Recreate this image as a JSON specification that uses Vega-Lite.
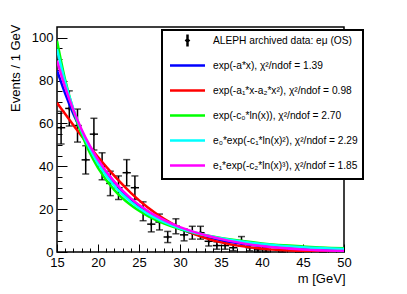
{
  "$schema": "https://vega.github.io/schema/vega-lite/v6.json",
  "width": 287,
  "height": 225,
  "autosize": {"type": "none"},
  "padding": {"left": 57, "top": 27, "right": 63, "bottom": 42},
  "background": "white",
  "datasets": {
    "pts": [
      {"s": "ALEPH archived data: eμ (OS)", "m": 15.5, "n": 58, "lo": 50.4, "hi": 65.6, "ml": 15, "mh": 16},
      {"s": "ALEPH archived data: eμ (OS)", "m": 16.5, "n": 67, "lo": 58.8, "hi": 75.2, "ml": 16, "mh": 17},
      {"s": "ALEPH archived data: eμ (OS)", "m": 17.5, "n": 59, "lo": 51.3, "hi": 66.7, "ml": 17, "mh": 18},
      {"s": "ALEPH archived data: eμ (OS)", "m": 18.5, "n": 43, "lo": 36.4, "hi": 49.6, "ml": 18, "mh": 19},
      {"s": "ALEPH archived data: eμ (OS)", "m": 19.5, "n": 55, "lo": 47.6, "hi": 62.4, "ml": 19, "mh": 20},
      {"s": "ALEPH archived data: eμ (OS)", "m": 20.5, "n": 40, "lo": 33.7, "hi": 46.3, "ml": 20, "mh": 21},
      {"s": "ALEPH archived data: eμ (OS)", "m": 21.5, "n": 32, "lo": 26.3, "hi": 37.7, "ml": 21, "mh": 22},
      {"s": "ALEPH archived data: eμ (OS)", "m": 22.5, "n": 30, "lo": 24.5, "hi": 35.5, "ml": 22, "mh": 23},
      {"s": "ALEPH archived data: eμ (OS)", "m": 23.5, "n": 37, "lo": 30.9, "hi": 43.1, "ml": 23, "mh": 24},
      {"s": "ALEPH archived data: eμ (OS)", "m": 24.5, "n": 30, "lo": 24.5, "hi": 35.5, "ml": 24, "mh": 25},
      {"s": "ALEPH archived data: eμ (OS)", "m": 25.5, "n": 19, "lo": 14.6, "hi": 23.4, "ml": 25, "mh": 26},
      {"s": "ALEPH archived data: eμ (OS)", "m": 26.5, "n": 13, "lo": 9.4, "hi": 16.6, "ml": 26, "mh": 27},
      {"s": "ALEPH archived data: eμ (OS)", "m": 27.5, "n": 14, "lo": 10.3, "hi": 17.7, "ml": 27, "mh": 28},
      {"s": "ALEPH archived data: eμ (OS)", "m": 28.5, "n": 7, "lo": 4.4, "hi": 9.6, "ml": 28, "mh": 29},
      {"s": "ALEPH archived data: eμ (OS)", "m": 29.5, "n": 12, "lo": 8.5, "hi": 15.5, "ml": 29, "mh": 30},
      {"s": "ALEPH archived data: eμ (OS)", "m": 30.5, "n": 8, "lo": 5.2, "hi": 10.8, "ml": 30, "mh": 31},
      {"s": "ALEPH archived data: eμ (OS)", "m": 31.5, "n": 9, "lo": 6, "hi": 12, "ml": 31, "mh": 32},
      {"s": "ALEPH archived data: eμ (OS)", "m": 32.5, "n": 9, "lo": 6, "hi": 12, "ml": 32, "mh": 33},
      {"s": "ALEPH archived data: eμ (OS)", "m": 33.5, "n": 5, "lo": 2.8, "hi": 7.2, "ml": 33, "mh": 34},
      {"s": "ALEPH archived data: eμ (OS)", "m": 34.5, "n": 3, "lo": 1.3, "hi": 4.7, "ml": 34, "mh": 35},
      {"s": "ALEPH archived data: eμ (OS)", "m": 35.5, "n": 3, "lo": 1.3, "hi": 4.7, "ml": 35, "mh": 36},
      {"s": "ALEPH archived data: eμ (OS)", "m": 36.5, "n": 2, "lo": 0.6, "hi": 3.4, "ml": 36, "mh": 37},
      {"s": "ALEPH archived data: eμ (OS)", "m": 37.5, "n": 5, "lo": 2.8, "hi": 7.2, "ml": 37, "mh": 38},
      {"s": "ALEPH archived data: eμ (OS)", "m": 38.5, "n": 2, "lo": 0.6, "hi": 3.4, "ml": 38, "mh": 39},
      {"s": "ALEPH archived data: eμ (OS)", "m": 39.5, "n": 1, "lo": 0, "hi": 2, "ml": 39, "mh": 40},
      {"s": "ALEPH archived data: eμ (OS)", "m": 40.5, "n": 1, "lo": 0, "hi": 2, "ml": 40, "mh": 41},
      {"s": "ALEPH archived data: eμ (OS)", "m": 42.5, "n": 1, "lo": 0, "hi": 2, "ml": 42, "mh": 43},
      {"s": "ALEPH archived data: eμ (OS)", "m": 44.5, "n": 1, "lo": 0, "hi": 2, "ml": 44, "mh": 45},
      {"s": "ALEPH archived data: eμ (OS)", "m": 47.5, "n": 1, "lo": 0, "hi": 2, "ml": 47, "mh": 48}
    ],
    "fits": [
      {"s": "exp(-a*x), χ²/ndof =  1.39", "m": 15, "v": 84.7},
      {"s": "exp(-a*x), χ²/ndof =  1.39", "m": 16, "v": 73.9},
      {"s": "exp(-a*x), χ²/ndof =  1.39", "m": 17, "v": 64.4},
      {"s": "exp(-a*x), χ²/ndof =  1.39", "m": 18, "v": 56.2},
      {"s": "exp(-a*x), χ²/ndof =  1.39", "m": 19, "v": 49.0},
      {"s": "exp(-a*x), χ²/ndof =  1.39", "m": 20, "v": 42.7},
      {"s": "exp(-a*x), χ²/ndof =  1.39", "m": 22, "v": 32.5},
      {"s": "exp(-a*x), χ²/ndof =  1.39", "m": 24, "v": 24.7},
      {"s": "exp(-a*x), χ²/ndof =  1.39", "m": 26, "v": 18.8},
      {"s": "exp(-a*x), χ²/ndof =  1.39", "m": 28, "v": 14.3},
      {"s": "exp(-a*x), χ²/ndof =  1.39", "m": 30, "v": 10.85},
      {"s": "exp(-a*x), χ²/ndof =  1.39", "m": 33, "v": 7.2},
      {"s": "exp(-a*x), χ²/ndof =  1.39", "m": 36, "v": 4.77},
      {"s": "exp(-a*x), χ²/ndof =  1.39", "m": 40, "v": 2.76},
      {"s": "exp(-a*x), χ²/ndof =  1.39", "m": 45, "v": 1.39},
      {"s": "exp(-a*x), χ²/ndof =  1.39", "m": 50, "v": 0.7},
      {"s": "exp(-a₁*x-a₂*x²), χ²/ndof =  0.98", "m": 15, "v": 69.6},
      {"s": "exp(-a₁*x-a₂*x²), χ²/ndof =  0.98", "m": 16, "v": 64.4},
      {"s": "exp(-a₁*x-a₂*x²), χ²/ndof =  0.98", "m": 17, "v": 59.2},
      {"s": "exp(-a₁*x-a₂*x²), χ²/ndof =  0.98", "m": 18, "v": 54.1},
      {"s": "exp(-a₁*x-a₂*x²), χ²/ndof =  0.98", "m": 19, "v": 49.1},
      {"s": "exp(-a₁*x-a₂*x²), χ²/ndof =  0.98", "m": 20, "v": 44.3},
      {"s": "exp(-a₁*x-a₂*x²), χ²/ndof =  0.98", "m": 22, "v": 35.5},
      {"s": "exp(-a₁*x-a₂*x²), χ²/ndof =  0.98", "m": 24, "v": 27.6},
      {"s": "exp(-a₁*x-a₂*x²), χ²/ndof =  0.98", "m": 26, "v": 21.0},
      {"s": "exp(-a₁*x-a₂*x²), χ²/ndof =  0.98", "m": 28, "v": 15.6},
      {"s": "exp(-a₁*x-a₂*x²), χ²/ndof =  0.98", "m": 30, "v": 11.3},
      {"s": "exp(-a₁*x-a₂*x²), χ²/ndof =  0.98", "m": 33, "v": 6.6},
      {"s": "exp(-a₁*x-a₂*x²), χ²/ndof =  0.98", "m": 36, "v": 3.67},
      {"s": "exp(-a₁*x-a₂*x²), χ²/ndof =  0.98", "m": 40, "v": 1.53},
      {"s": "exp(-a₁*x-a₂*x²), χ²/ndof =  0.98", "m": 45, "v": 0.45},
      {"s": "exp(-a₁*x-a₂*x²), χ²/ndof =  0.98", "m": 50, "v": 0.11},
      {"s": "exp(-c₀*ln(x)), χ²/ndof =  2.70", "m": 15, "v": 98.6},
      {"s": "exp(-c₀*ln(x)), χ²/ndof =  2.70", "m": 16, "v": 80.2},
      {"s": "exp(-c₀*ln(x)), χ²/ndof =  2.70", "m": 17, "v": 66.1},
      {"s": "exp(-c₀*ln(x)), χ²/ndof =  2.70", "m": 18, "v": 55.0},
      {"s": "exp(-c₀*ln(x)), χ²/ndof =  2.70", "m": 19, "v": 46.3},
      {"s": "exp(-c₀*ln(x)), χ²/ndof =  2.70", "m": 20, "v": 39.3},
      {"s": "exp(-c₀*ln(x)), χ²/ndof =  2.70", "m": 22, "v": 28.9},
      {"s": "exp(-c₀*ln(x)), χ²/ndof =  2.70", "m": 24, "v": 21.9},
      {"s": "exp(-c₀*ln(x)), χ²/ndof =  2.70", "m": 26, "v": 17.0},
      {"s": "exp(-c₀*ln(x)), χ²/ndof =  2.70", "m": 28, "v": 13.4},
      {"s": "exp(-c₀*ln(x)), χ²/ndof =  2.70", "m": 30, "v": 10.7},
      {"s": "exp(-c₀*ln(x)), χ²/ndof =  2.70", "m": 33, "v": 7.9},
      {"s": "exp(-c₀*ln(x)), χ²/ndof =  2.70", "m": 36, "v": 5.9},
      {"s": "exp(-c₀*ln(x)), χ²/ndof =  2.70", "m": 40, "v": 4.0},
      {"s": "exp(-c₀*ln(x)), χ²/ndof =  2.70", "m": 45, "v": 2.6},
      {"s": "exp(-c₀*ln(x)), χ²/ndof =  2.70", "m": 50, "v": 1.7},
      {"s": "e₀*exp(-c₁*ln(x)²), χ²/ndof =  2.29", "m": 15, "v": 94.7},
      {"s": "e₀*exp(-c₁*ln(x)²), χ²/ndof =  2.29", "m": 16, "v": 79.2},
      {"s": "e₀*exp(-c₁*ln(x)²), χ²/ndof =  2.29", "m": 17, "v": 66.7},
      {"s": "e₀*exp(-c₁*ln(x)²), χ²/ndof =  2.29", "m": 18, "v": 56.5},
      {"s": "e₀*exp(-c₁*ln(x)²), χ²/ndof =  2.29", "m": 19, "v": 48.2},
      {"s": "e₀*exp(-c₁*ln(x)²), χ²/ndof =  2.29", "m": 20, "v": 41.3},
      {"s": "e₀*exp(-c₁*ln(x)²), χ²/ndof =  2.29", "m": 22, "v": 30.8},
      {"s": "e₀*exp(-c₁*ln(x)²), χ²/ndof =  2.29", "m": 24, "v": 23.4},
      {"s": "e₀*exp(-c₁*ln(x)²), χ²/ndof =  2.29", "m": 26, "v": 18.0},
      {"s": "e₀*exp(-c₁*ln(x)²), χ²/ndof =  2.29", "m": 28, "v": 14.1},
      {"s": "e₀*exp(-c₁*ln(x)²), χ²/ndof =  2.29", "m": 30, "v": 11.1},
      {"s": "e₀*exp(-c₁*ln(x)²), χ²/ndof =  2.29", "m": 33, "v": 7.97},
      {"s": "e₀*exp(-c₁*ln(x)²), χ²/ndof =  2.29", "m": 36, "v": 5.7},
      {"s": "e₀*exp(-c₁*ln(x)²), χ²/ndof =  2.29", "m": 40, "v": 3.7},
      {"s": "e₀*exp(-c₁*ln(x)²), χ²/ndof =  2.29", "m": 45, "v": 2.2},
      {"s": "e₀*exp(-c₁*ln(x)²), χ²/ndof =  2.29", "m": 50, "v": 1.4},
      {"s": "e₁*exp(-c₂*ln(x)³), χ²/ndof =  1.85", "m": 15, "v": 89.3},
      {"s": "e₁*exp(-c₂*ln(x)³), χ²/ndof =  1.85", "m": 16, "v": 76.8},
      {"s": "e₁*exp(-c₂*ln(x)³), χ²/ndof =  1.85", "m": 17, "v": 66.2},
      {"s": "e₁*exp(-c₂*ln(x)³), χ²/ndof =  1.85", "m": 18, "v": 57.2},
      {"s": "e₁*exp(-c₂*ln(x)³), χ²/ndof =  1.85", "m": 19, "v": 49.6},
      {"s": "e₁*exp(-c₂*ln(x)³), χ²/ndof =  1.85", "m": 20, "v": 43.1},
      {"s": "e₁*exp(-c₂*ln(x)³), χ²/ndof =  1.85", "m": 22, "v": 32.7},
      {"s": "e₁*exp(-c₂*ln(x)³), χ²/ndof =  1.85", "m": 24, "v": 25.0},
      {"s": "e₁*exp(-c₂*ln(x)³), χ²/ndof =  1.85", "m": 26, "v": 19.3},
      {"s": "e₁*exp(-c₂*ln(x)³), χ²/ndof =  1.85", "m": 28, "v": 15.0},
      {"s": "e₁*exp(-c₂*ln(x)³), χ²/ndof =  1.85", "m": 30, "v": 11.6},
      {"s": "e₁*exp(-c₂*ln(x)³), χ²/ndof =  1.85", "m": 33, "v": 7.9},
      {"s": "e₁*exp(-c₂*ln(x)³), χ²/ndof =  1.85", "m": 36, "v": 5.2},
      {"s": "e₁*exp(-c₂*ln(x)³), χ²/ndof =  1.85", "m": 40, "v": 2.8},
      {"s": "e₁*exp(-c₂*ln(x)³), χ²/ndof =  1.85", "m": 45, "v": 1.2},
      {"s": "e₁*exp(-c₂*ln(x)³), χ²/ndof =  1.85", "m": 50, "v": 0.5}
    ]
  },
  "encoding": {
    "x": {
      "type": "quantitative",
      "scale": {"domain": [15, 50], "nice": false, "zero": false},
      "axis": {
        "title": "m [GeV]",
        "values": [15,16,17,18,19,20,21,22,23,24,25,26,27,28,29,30,31,32,33,34,35,36,37,38,39,40,41,42,43,44,45,46,47,48,49,50],
        "labelExpr": "datum.value % 5 === 0 ? datum.label : ''",
        "labelOverlap": false,
        "labelFlush": false,
        "tickSize": {"condition": {"test": "datum.value % 5 === 0", "value": -8}, "value": -4},
        "labelPadding": 12.5,
        "titleX": 288,
        "titleY": 26,
        "titleAlign": "right",
        "titleBaseline": "middle",
        "titleAnchor": null
      }
    },
    "y": {
      "type": "quantitative",
      "scale": {"domain": [0, 105], "nice": false},
      "axis": {
        "title": "Events / 1 GeV",
        "values": [0,5,10,15,20,25,30,35,40,45,50,55,60,65,70,75,80,85,90,95,100],
        "labelExpr": "datum.value % 20 === 0 ? datum.label : ''",
        "labelOverlap": false,
        "labelFlush": false,
        "tickSize": {"condition": {"test": "datum.value % 20 === 0", "value": -10}, "value": -5},
        "labelPadding": 14,
        "titleAngle": 270,
        "titleX": -42,
        "titleY": -3,
        "titleAlign": "right",
        "titleBaseline": "middle",
        "titleAnchor": null
      }
    }
  },
  "layer": [
    {
      "data": {"name": "pts"},
      "mark": {"type": "rule", "color": "black", "strokeWidth": 1.5},
      "encoding": {"x": {"field": "m"}, "y": {"field": "lo"}, "y2": {"field": "hi"}}
    },
    {
      "data": {"name": "pts"},
      "mark": {"type": "rule", "color": "black", "strokeWidth": 1.5},
      "encoding": {"x": {"field": "ml"}, "x2": {"field": "mh"}, "y": {"field": "n"}}
    },
    {
      "data": {"name": "pts"},
      "mark": {"type": "tick", "orient": "horizontal", "color": "black", "thickness": 1.5, "size": 7},
      "encoding": {"x": {"field": "m"}, "y": {"field": "hi"}}
    },
    {
      "data": {"name": "pts"},
      "mark": {"type": "tick", "orient": "horizontal", "color": "black", "thickness": 1.5, "size": 7},
      "encoding": {"x": {"field": "m"}, "y": {"field": "lo"}}
    },
    {
      "data": {"name": "pts"},
      "mark": {"type": "point", "filled": false, "size": 16, "strokeWidth": 1.5, "opacity": 1},
      "encoding": {
        "x": {"field": "m"},
        "y": {"field": "n"},
        "color": {"field": "s", "type": "nominal", "title": null, "scale": {"domain": ["ALEPH archived data: eμ (OS)", "exp(-a*x), χ²/ndof =  1.39", "exp(-a₁*x-a₂*x²), χ²/ndof =  0.98", "exp(-c₀*ln(x)), χ²/ndof =  2.70", "e₀*exp(-c₁*ln(x)²), χ²/ndof =  2.29", "e₁*exp(-c₂*ln(x)³), χ²/ndof =  1.85"], "range": ["black", "#0000ff", "#ff0000", "#00ff00", "#00ffff", "#ff00ff"]}},
        "shape": {"field": "s", "type": "nominal", "title": null, "scale": {"domain": ["ALEPH archived data: eμ (OS)", "exp(-a*x), χ²/ndof =  1.39", "exp(-a₁*x-a₂*x²), χ²/ndof =  0.98", "exp(-c₀*ln(x)), χ²/ndof =  2.70", "e₀*exp(-c₁*ln(x)²), χ²/ndof =  2.29", "e₁*exp(-c₂*ln(x)³), χ²/ndof =  1.85"], "range": ["M0,-0.85L0,0.85M-0.15,0L0,-0.15L0.15,0L0,0.15Z", "M0,-0.85M0,0.85M-2.5,0L2.5,0", "M0,-0.85M0,0.85M-2.5,0L2.5,0", "M0,-0.85M0,0.85M-2.5,0L2.5,0", "M0,-0.85M0,0.85M-2.5,0L2.5,0", "M0,-0.85M0,0.85M-2.5,0L2.5,0"]}}
      }
    },
    {
      "data": {"name": "fits"},
      "mark": {"type": "line", "strokeWidth": 2.5, "interpolate": "monotone", "clip": true},
      "encoding": {
        "x": {"field": "m"},
        "y": {"field": "v"},
        "color": {"field": "s", "type": "nominal", "title": null}
      }
    }
  ],
  "config": {
    "view": {"stroke": "black", "strokeWidth": 1.5},
    "font": "Liberation Sans",
    "axis": {
      "domain": false,
      "grid": false,
      "tickColor": "black",
      "tickWidth": 1,
      "labelFont": "Liberation Sans",
      "labelFontSize": 13,
      "labelColor": "black",
      "titleFont": "Liberation Sans",
      "titleFontSize": 13,
      "titleFontWeight": "normal",
      "titleColor": "black"
    },
    "legend": {
      "orient": "none",
      "legendX": 105,
      "legendY": 3,
      "padding": 2,
      "fillColor": "white",
      "strokeColor": "black",
      "strokeWidth": 2,
      "cornerRadius": 0,
      "symbolSize": 196,
      "symbolOffset": 15,
      "labelOffset": 17,
      "rowPadding": 2,
      "labelFont": "Liberation Sans",
      "labelFontSize": 10.2,
      "labelColor": "black",
      "labelLimit": 0,
      "symbolStrokeWidth": 2.5,
      "symbolFillColor": "transparent"
    }
  }
}
